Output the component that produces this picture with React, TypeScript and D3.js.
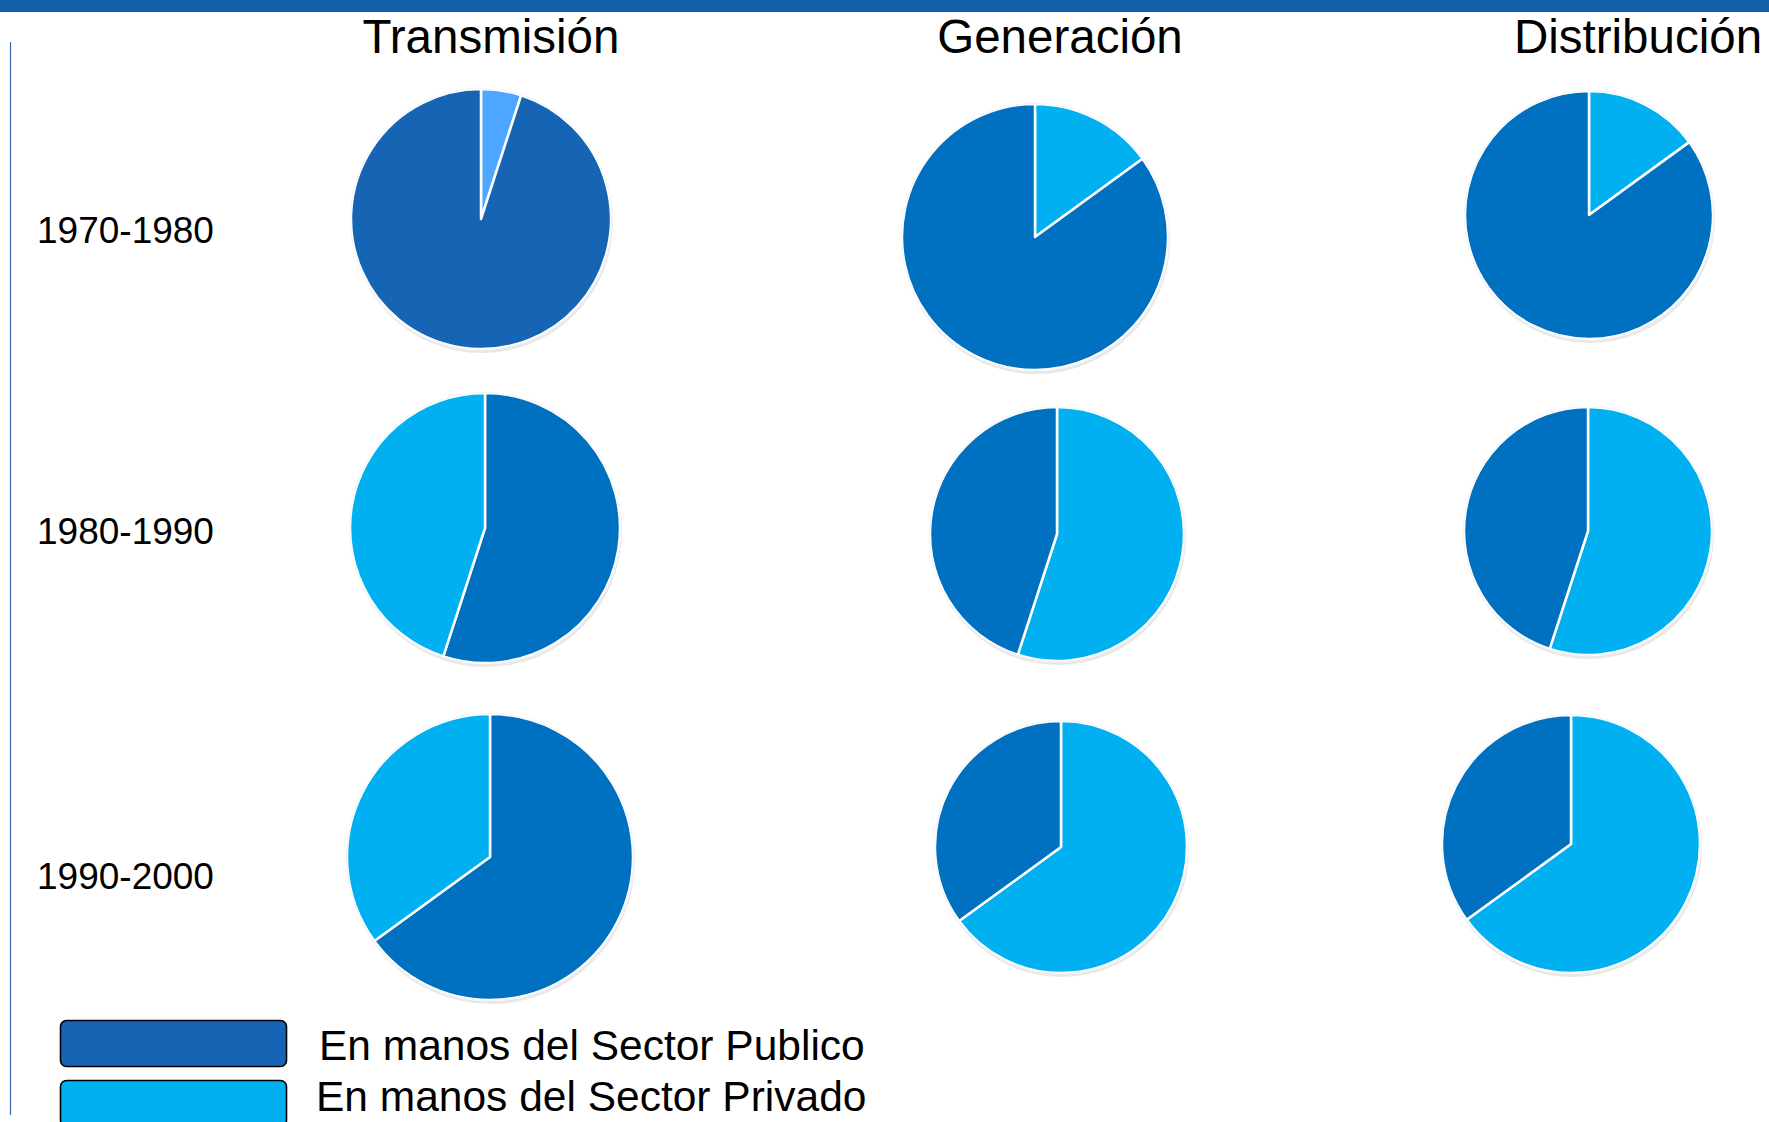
import React, { useEffect } from "react";
import * as d3 from "d3";

// ---------- data ----------
const sectors = ["Transmisión", "Generación", "Distribución"];
const periods = ["1970-1980", "1980-1990", "1990-2000"];
// share (%) held by the public sector, rows = periods, cols = sectors
const publicShare = [
  [95, 85, 85],
  [55, 45, 45],
  [65, 35, 35],
];
// share (%) held by the private sector
const privateShare = [
  [5, 15, 15],
  [45, 55, 55],
  [35, 65, 65],
];
// which slice is drawn first (clockwise from 12 o'clock)
const firstSlice = [
  ["private", "private", "private"],
  ["public", "private", "private"],
  ["public", "private", "private"],
];
const legendLabels = ["En manos del Sector Publico", "En manos del Sector Privado"];

// ---------- layout / style ----------
const W = 1769;
const H = 1122;
const colX = d3.scalePoint<string>().domain(sectors).range([485, 1585]);
const rowY = d3.scalePoint<string>().domain(periods).range([224, 850]);
// small per-pie adjustments [dx, dy, radius]
const pieAdjust = [
  [[-4, -5, 130], [0, 13, 133], [4, -9, 124]],
  [[0, -9, 135], [22, -3, 127], [3, -6, 124]],
  [[5, 7, 143], [26, -3, 126], [-14, -6, 129]],
];
const titleX = [491, 1060, 1638];
const labelBaseline = [243, 544, 889];

const C_PUB_A = "#1565B4";
const C_PRIV_A = "#4DA6FF";
const C_PUB = "#0070C0";
const C_PRIV = "#00B0F0";

function colorsFor(r: number, c: number) {
  if (r === 0 && c === 0) return { public: C_PUB_A, private: C_PRIV_A };
  return { public: C_PUB, private: C_PRIV };
}

function Pie({ r, c }: { r: number; c: number }) {
  const [dx, dy, rad] = pieAdjust[r][c];
  const cx = (colX(sectors[c]) as number) + dx;
  const cy = (rowY(periods[r]) as number) + dy;
  const pub = { key: "public", value: publicShare[r][c] };
  const priv = { key: "private", value: privateShare[r][c] };
  const slices = firstSlice[r][c] === "public" ? [pub, priv] : [priv, pub];
  const arcs = d3
    .pie<{ key: string; value: number }>()
    .sort(null)
    .value((d) => d.value)(slices);
  const arcGen = d3
    .arc<d3.PieArcDatum<{ key: string; value: number }>>()
    .innerRadius(0)
    .outerRadius(rad);
  const cols = colorsFor(r, c) as any;
  return (
    <g transform={`translate(${cx},${cy})`}>
      <circle cx={1} cy={3} r={rad + 1} fill="#d6d6d6" opacity={0.55} />
      <circle cx={0} cy={0} r={rad + 0.8} fill="#eeeeee" />
      {arcs.map((a, i) => (
        <path
          key={i}
          d={arcGen(a) || ""}
          fill={cols[a.data.key]}
          stroke="#ffffff"
          strokeWidth={2.5}
          strokeLinejoin="round"
        />
      ))}
      <circle cx={0} cy={0} r={rad + 0.5} fill="none" stroke="#f4f4f4" strokeWidth={1} />
    </g>
  );
}

export default function App() {
  useEffect(() => {
    document.body.style.margin = "0";
    document.body.style.overflow = "hidden";
  }, []);
  const font = "'Liberation Sans', Arial, Helvetica, sans-serif";
  return (
    <svg
      width={W}
      height={H}
      viewBox={`0 0 ${W} ${H}`}
      style={{ position: "absolute", left: 0, top: 0, background: "#ffffff" }}
      fontFamily={font}
    >
      <rect x={0} y={0} width={W} height={H} fill="#ffffff" />
      {/* top band */}
      <rect x={0} y={0} width={W} height={12} fill="#135EA9" />
      {/* left rule */}
      <line x1={10.5} y1={42} x2={10.5} y2={1115} stroke="#3B64AE" strokeWidth={1.2} />

      {sectors.map((s, i) => (
        <text key={s} x={titleX[i]} y={53} fontSize={47.5} textAnchor="middle" fill="#000">
          {s}
        </text>
      ))}

      {periods.map((p, i) => (
        <text key={p} x={37} y={labelBaseline[i]} fontSize={37} fill="#000">
          {p}
        </text>
      ))}

      {periods.map((_, r) => sectors.map((_, c) => <Pie key={`${r}-${c}`} r={r} c={c} />))}

      {/* legend */}
      {legendLabels.map((l, i) => (
        <g key={l}>
          <rect
            x={60.5}
            y={1020.5 + i * 60}
            width={226}
            height={46}
            rx={6}
            ry={6}
            fill={i === 0 ? C_PUB_A : C_PRIV}
            stroke="#000"
            strokeWidth={1.6}
          />
          <text x={i === 0 ? 319 : 316} y={1060 + i * 51} fontSize={42.5} fill="#000">
            {l}
          </text>
        </g>
      ))}
    </svg>
  );
}
